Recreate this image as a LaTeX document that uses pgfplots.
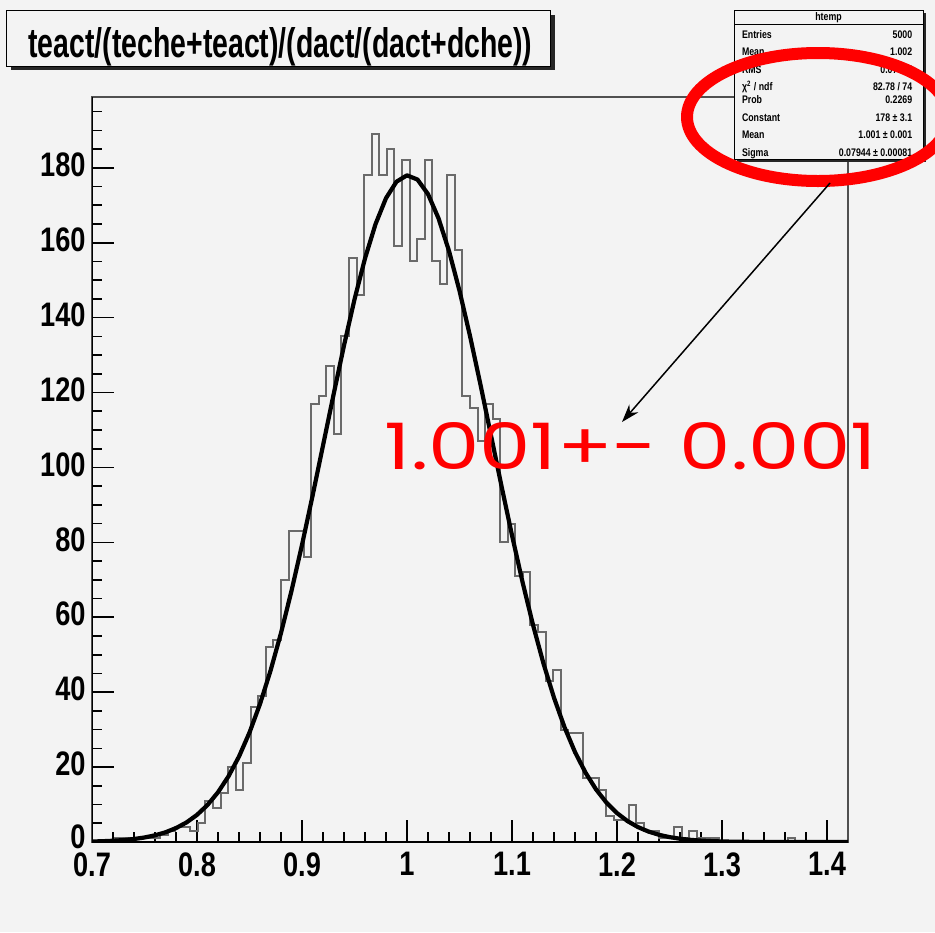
\documentclass[border=0pt]{standalone}
\usepackage{fontspec}
\setmainfont{Liberation Sans}
\newfontfamily\rootf[FakeStretch=0.8]{Liberation Sans}
\newfontfamily\handf{Poppins}
\usepackage{pgfplots}
\usepackage{pgfplotstable}
\pgfplotsset{compat=1.18}
\usetikzlibrary{arrows.meta}
\definecolor{bgc}{HTML}{F3F3F3}
\definecolor{histc}{HTML}{6A6A6A}
\definecolor{framec}{HTML}{505050}
\definecolor{redc}{HTML}{FF0000}

\pgfplotstableread{
x y
0.7000 0
0.7072 0
0.7144 0
0.7216 1
0.7288 1
0.7360 1
0.7432 1
0.7504 1
0.7576 1
0.7648 2
0.7720 3
0.7792 4
0.7864 4
0.7936 3
0.8008 5
0.8080 11
0.8152 9
0.8224 13
0.8296 20
0.8368 14
0.8440 21
0.8512 36
0.8584 39
0.8656 52
0.8728 54
0.8800 70
0.8872 83
0.8944 83
0.9016 76
0.9088 117
0.9160 119
0.9232 127
0.9304 109
0.9376 135
0.9448 156
0.9520 146
0.9592 178
0.9664 189
0.9736 178
0.9808 185
0.9880 159
0.9952 182
1.0024 155
1.0096 161
1.0168 182
1.0240 155
1.0312 149
1.0384 178
1.0456 158
1.0528 119
1.0600 116
1.0672 107
1.0744 117
1.0816 113
1.0888 80
1.0960 85
1.1032 71
1.1104 72
1.1176 58
1.1248 56
1.1320 43
1.1392 46
1.1464 30
1.1536 29
1.1608 29
1.1680 17
1.1752 17
1.1824 14
1.1896 7
1.1968 6
1.2040 6
1.2112 10
1.2184 5
1.2256 3
1.2328 3
1.2400 1
1.2472 1
1.2544 4
1.2616 1
1.2688 3
1.2760 1
1.2832 1
1.2904 1
1.2976 0
1.3048 0
1.3120 0
1.3192 0
1.3264 0
1.3336 0
1.3408 0
1.3480 0
1.3552 0
1.3624 1
1.3696 0
1.3768 0
1.3840 0
1.3912 0
1.3984 0
1.4056 0
1.4128 0
1.4200 0
}\histtable

\pgfplotstableread{
x y
0.70 0.136
0.71 0.217
0.72 0.341
0.73 0.529
0.74 0.806
0.75 1.210
0.76 1.787
0.77 2.596
0.78 3.713
0.79 5.230
0.80 7.248
0.81 9.891
0.82 13.28
0.83 17.55
0.84 22.82
0.85 29.23
0.86 36.85
0.87 45.71
0.88 55.80
0.89 67.06
0.90 79.32
0.91 92.36
0.92 105.85
0.93 119.38
0.94 132.56
0.95 144.86
0.96 155.80
0.97 164.95
0.98 171.89
0.99 176.30
1.00 177.99
1.01 176.86
1.02 172.98
1.03 166.52
1.04 157.80
1.05 147.17
1.06 135.10
1.07 122.07
1.08 108.56
1.09 95.03
1.10 81.88
1.11 69.44
1.12 57.96
1.13 47.63
1.14 38.52
1.15 30.65
1.16 24.01
1.17 18.53
1.18 14.06
1.19 10.50
1.20 7.722
1.21 5.589
1.22 3.982
1.23 2.792
1.24 1.927
1.25 1.309
1.26 0.876
1.27 0.576
1.28 0.373
1.29 0.238
1.30 0.149
1.31 0.092
1.32 0.056
1.34 0.02
1.38 0.002
1.42 0.0
}\fittable

\begin{document}
\begin{tikzpicture}
\useasboundingbox (0,0) rectangle (467.5pt,-466pt);
\clip (0,0) rectangle (467.5pt,-466pt);
\fill[bgc] (0,0) rectangle (467.5pt,-466pt);
% title box
\fill[black!85] (5.4pt,-7.4pt) rectangle (277.4pt,-35pt);
\draw[black, line width=0.5pt, fill=bgc] (3.2pt,-5.35pt) rectangle (275pt,-33pt);
\node[anchor=base west, inner sep=0pt] at (14pt,-28.5pt) {\resizebox{252pt}{15pt}{\rootf\bfseries teact/(teche+teact)/(dact/(dact+dche))}};

\begin{axis}[
  at={(46pt,-421pt)}, anchor=south west,
  scale only axis, width=378pt, height=372.5pt,
  xmin=0.7, xmax=1.42, ymin=0, ymax=198.9,
  xtick={0.7,0.8,0.9,1,1.1,1.2,1.3,1.4},
  xticklabels={0.7,0.8,0.9,1,1.1,1.2,1.3,1.4},
  ytick={0,20,40,60,80,100,120,140,160,180},
  yticklabels={\raisebox{2pt}{0},20,40,60,80,100,120,140,160,180},
  minor xtick={0.72,0.74,0.76,0.78,0.82,0.84,0.86,0.88,0.92,0.94,0.96,0.98,1.02,1.04,1.06,1.08,1.12,1.14,1.16,1.18,1.22,1.24,1.26,1.28,1.32,1.34,1.36,1.38},
  minor ytick={5,10,15,25,30,35,45,50,55,65,70,75,85,90,95,105,110,115,125,130,135,145,150,155,165,170,175,185,190,195},
  tick align=inside, xtick pos=bottom, ytick pos=left,
  major tick length=10.8pt, minor tick length=5pt,
  every tick/.style={black, line width=0.8pt},
  axis line style={framec, line width=0.7pt},
  /pgf/number format/assume math mode=true,
  tick label style={font=\rootf\bfseries\fontsize{17pt}{18pt}\selectfont, inner sep=1pt},
  xticklabel style={yshift=-4pt},
  yticklabel style={xshift=-2pt, yshift=1.5pt},
  axis background/.style={fill=bgc},
]
\addplot[const plot mark left, histc, line width=1pt] table[x=x,y=y] {\histtable};
\addplot[black, line width=2.1pt, line join=round] table[x=x,y=y] {\fittable};
\draw[black, line width=1pt] (rel axis cs:0,1) -- (rel axis cs:0,0) -- (rel axis cs:1,0);
\end{axis}

% stats box
\fill[black!85] (368.5pt,-6.5pt) rectangle (463pt,-81pt);
\draw[black, line width=0.5pt, fill=bgc] (367pt,-5pt) rectangle (461.5pt,-79.5pt);
\draw[black, line width=0.5pt] (367pt,-12pt) -- (461.5pt,-12pt);
\begin{scope}[every node/.style={inner sep=0pt, font=\rootf\bfseries\fontsize{5.5pt}{6pt}\selectfont}]
\node at (414.25pt,-9pt) {htemp};
\node[anchor=mid west] at (370.8pt,-16.65pt) {Entries};
\node[anchor=mid east] at (456.3pt,-16.65pt) {5000};
\node[anchor=mid west] at (370.8pt,-25.35pt) {Mean};
\node[anchor=mid east] at (456.3pt,-25.35pt) {1.002};
\node[anchor=mid west] at (370.8pt,-34.15pt) {RMS};
\node[anchor=mid east] at (456.3pt,-34.15pt) {0.07987};
\node[anchor=mid west] at (370.8pt,-42.5pt) {χ\textsuperscript{2} / ndf};
\node[anchor=mid east] at (456.3pt,-42.5pt) {82.78 / 74};
\node[anchor=mid west] at (370.8pt,-49.15pt) {Prob};
\node[anchor=mid east] at (456.3pt,-49.15pt) {0.2269};
\node[anchor=mid west] at (370.8pt,-58pt) {Constant};
\node[anchor=mid east] at (456.3pt,-58pt) {178 ± 3.1};
\node[anchor=mid west] at (370.8pt,-66.65pt) {Mean};
\node[anchor=mid east] at (456.3pt,-66.65pt) {1.001 ± 0.001};
\node[anchor=mid west] at (370.8pt,-75.85pt) {Sigma};
\node[anchor=mid east] at (456.3pt,-75.85pt) {0.07944 ± 0.00081};
\end{scope}

% red annotation
\draw[redc, line width=6pt] (409pt,-58.5pt) ellipse [x radius=65.5pt, y radius=32pt];
\draw[black, line width=0.75pt, -{Stealth[length=9pt, width=6pt]}] (415pt,-91.5pt) -- (311pt,-211pt);
\node[inner sep=0pt, redc] at (315.5pt,-223pt) {\resizebox{246pt}{23.5pt}{\handf 1.001+- 0.001}};
\end{tikzpicture}
\end{document}
